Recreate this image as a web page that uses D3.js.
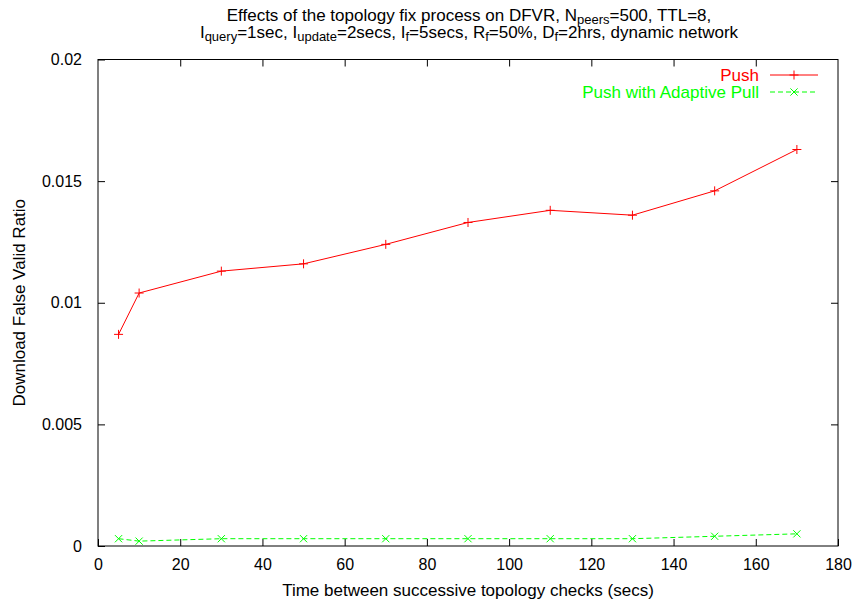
<!DOCTYPE html>
<html>
<head>
<meta charset="utf-8">
<script src="https://cdn.jsdelivr.net/npm/d3@7"></script>
<style>
  body { margin: 0; background: #fff; }
  svg { display: block; font-family: "Liberation Sans", Arial, Helvetica, sans-serif; }
</style>
</head>
<body>
<svg id="chart" width="855" height="600"></svg>
<script>
// Data: interval between topology checks (secs) vs download false valid ratio
const checkIntervals = [5, 10, 30, 50, 70, 90, 110, 130, 150, 170];
const pushRatio = [0.0087, 0.0104, 0.0113, 0.0116, 0.0124, 0.0133, 0.0138, 0.0136, 0.0146, 0.0163];
const adaptivePullRatio = [0.0003, 0.0002, 0.0003, 0.0003, 0.0003, 0.0003, 0.0003, 0.0003, 0.0004, 0.0005];
const xTicks = [0, 20, 40, 60, 80, 100, 120, 140, 160, 180];
const yTicks = [0, 0.005, 0.01, 0.015, 0.02];
const seriesNames = ["Push", "Push with Adaptive Pull"];

const svg = d3.select("#chart");
const m = { left: 98, right: 838, top: 59.5, bottom: 546 };

const x = d3.scaleLinear().domain([0, 180]).range([m.left, m.right]);
const y = d3.scaleLinear().domain([0, 0.02]).range([m.bottom, m.top]);

const tickFont = 16;
const textFont = 17;
const tickLen = 7;

// Frame
svg.append("rect")
  .attr("x", m.left).attr("y", m.top)
  .attr("width", m.right - m.left).attr("height", m.bottom - m.top)
  .attr("fill", "none").attr("stroke", "#000").attr("stroke-width", 1);

// Bottom axis with inward ticks, mirrored on top
const xAxis = d3.axisBottom(x).tickValues(xTicks).tickSize(-tickLen).tickPadding(tickLen + 6)
  .tickFormat(d3.format("d"));
const gx = svg.append("g").attr("transform", `translate(0,${m.bottom})`).call(xAxis);
gx.select(".domain").remove();
gx.selectAll("text").attr("font-size", tickFont).attr("font-family", null).attr("fill", "#000");
gx.selectAll("line").attr("stroke", "#000");
const xTop = d3.axisTop(x).tickValues(xTicks.slice(1, -1)).tickSize(-tickLen).tickFormat("");
const gxt = svg.append("g").attr("transform", `translate(0,${m.top})`).call(xTop);
gxt.select(".domain").remove();
gxt.selectAll("line").attr("stroke", "#000");

// Left axis with inward ticks, mirrored on right
const yAxis = d3.axisLeft(y).tickValues(yTicks).tickSize(-tickLen).tickPadding(tickLen + 9)
  .tickFormat(d => d === 0 ? "0" : d3.format("")(+d.toFixed(3)));
const gy = svg.append("g").attr("transform", `translate(${m.left},0)`).call(yAxis);
gy.select(".domain").remove();
gy.selectAll("text").attr("font-size", tickFont).attr("font-family", null).attr("fill", "#000");
gy.selectAll("line").attr("stroke", "#000");
const yRight = d3.axisRight(y).tickValues(yTicks.slice(1, -1)).tickSize(-tickLen).tickFormat("");
const gyr = svg.append("g").attr("transform", `translate(${m.right},0)`).call(yRight);
gyr.select(".domain").remove();
gyr.selectAll("line").attr("stroke", "#000");

// Axis titles
svg.append("text")
  .attr("x", (m.left + m.right) / 2).attr("y", 596)
  .attr("text-anchor", "middle").attr("font-size", textFont)
  .text("Time between successive topology checks (secs)");
svg.append("text")
  .attr("transform", `translate(25,${(m.top + m.bottom) / 2}) rotate(-90)`)
  .attr("text-anchor", "middle").attr("font-size", textFont)
  .text("Download False Valid Ratio");

// Title with subscripts
const title = svg.append("text").attr("text-anchor", "middle").attr("font-size", textFont);
const sub = (t, s) => { t.append("tspan").attr("baseline-shift", "-25%").attr("font-size", 13).text(s); };
const l1 = title.append("tspan").attr("x", 469).attr("y", 21);
l1.append("tspan").text("Effects of the topology fix process on DFVR, N");
sub(l1, "peers");
l1.append("tspan").text("=500, TTL=8,");
const l2 = title.append("tspan").attr("x", 469).attr("y", 38);
l2.append("tspan").text("I");
sub(l2, "query");
l2.append("tspan").text("=1sec, I");
sub(l2, "update");
l2.append("tspan").text("=2secs, I");
sub(l2, "f");
l2.append("tspan").text("=5secs, R");
sub(l2, "f");
l2.append("tspan").text("=50%, D");
sub(l2, "f");
l2.append("tspan").text("=2hrs, dynamic network");

// Series
const series = [
  { name: seriesNames[0], values: pushRatio, color: "#ff0000", dash: null, marker: "plus" },
  { name: seriesNames[1], values: adaptivePullRatio, color: "#00ff00", dash: "5,3", marker: "cross" }
];

const line = d3.line().x(d => x(d[0])).y(d => y(d[1]));
const ms = 4.5;
function marker(g, px, py, type, color) {
  const p = d3.path();
  if (type === "plus") {
    p.moveTo(px - ms, py); p.lineTo(px + ms, py);
    p.moveTo(px, py - ms); p.lineTo(px, py + ms);
  } else {
    p.moveTo(px - ms * 0.8, py - ms * 0.8); p.lineTo(px + ms * 0.8, py + ms * 0.8);
    p.moveTo(px - ms * 0.8, py + ms * 0.8); p.lineTo(px + ms * 0.8, py - ms * 0.8);
  }
  g.append("path").attr("d", p.toString()).attr("stroke", color).attr("stroke-width", 1).attr("fill", "none");
}

series.forEach((s, i) => {
  const pts = checkIntervals.map((c, j) => [c, s.values[j]]);
  const g = svg.append("g");
  g.append("path").datum(pts).attr("d", line)
    .attr("fill", "none").attr("stroke", s.color).attr("stroke-width", 1)
    .attr("stroke-dasharray", s.dash);
  pts.forEach(d => marker(g, x(d[0]), y(d[1]), s.marker, s.color));

  // Legend entry
  const ly = 75 + i * 17;
  svg.append("text").attr("x", 759).attr("y", ly + 6)
    .attr("text-anchor", "end").attr("font-size", textFont).attr("fill", s.color).text(s.name);
  svg.append("line").attr("x1", 770).attr("x2", 818).attr("y1", ly).attr("y2", ly)
    .attr("stroke", s.color).attr("stroke-width", 1).attr("stroke-dasharray", s.dash);
  marker(svg, 794, ly, s.marker, s.color);
});
</script>
</body>
</html>
